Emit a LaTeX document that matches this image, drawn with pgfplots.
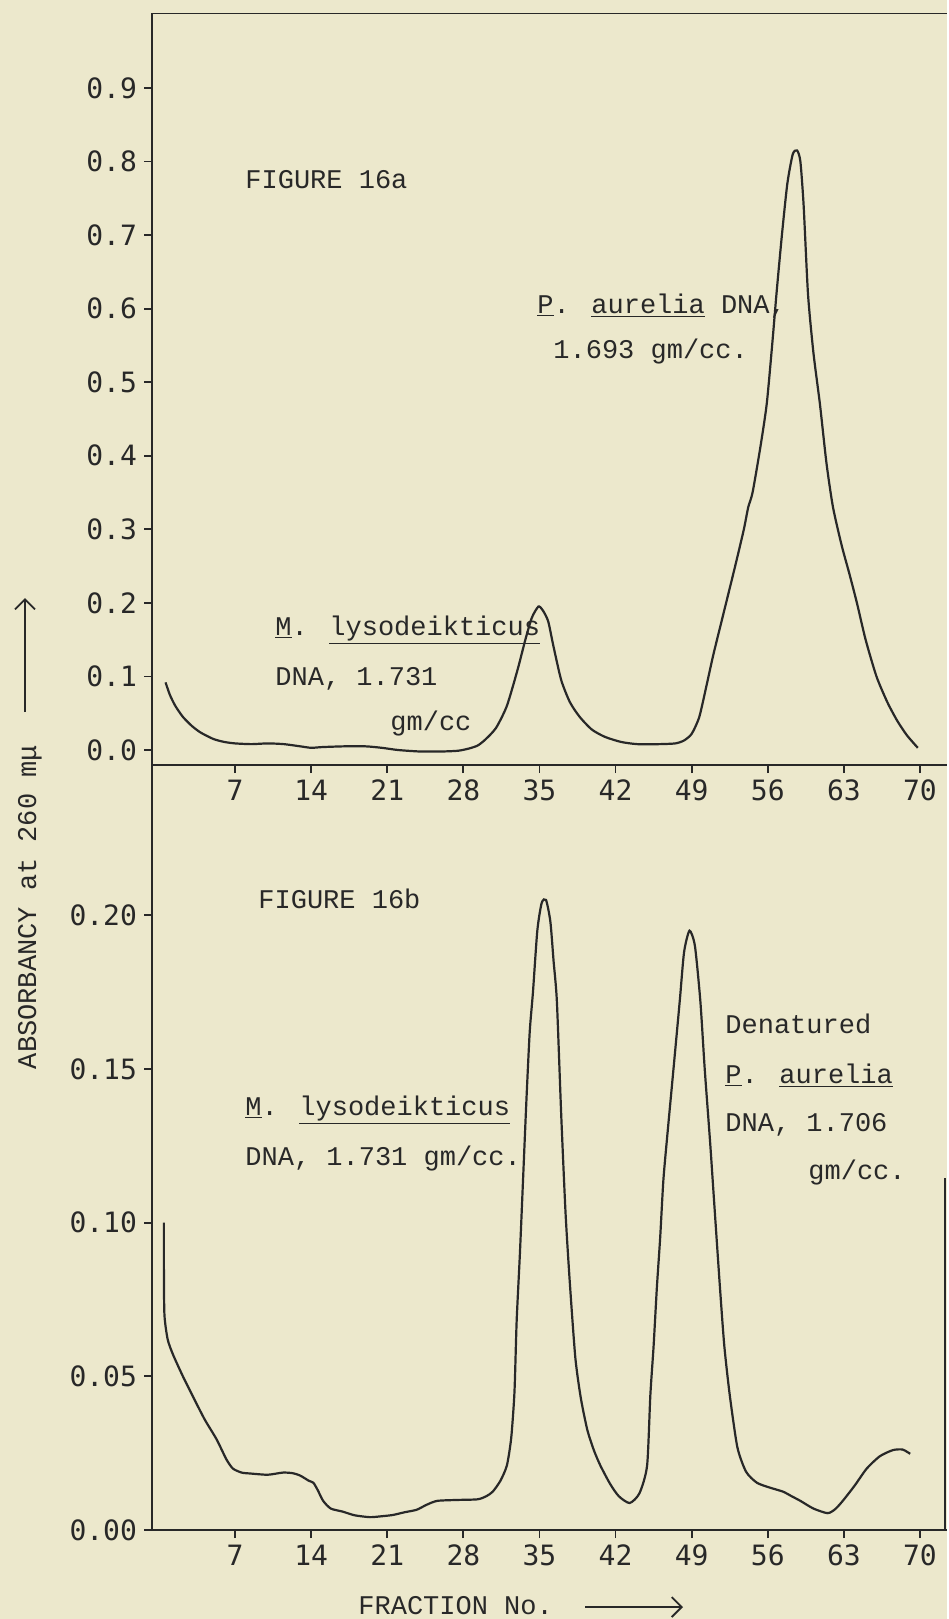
\documentclass[border=0pt]{standalone}
\usepackage{pgfplots}
\pgfplotsset{compat=1.18}
\usepackage{fontspec}
\usetikzlibrary{arrows.meta}
\setmainfont{Liberation Mono}
\newfontfamily\tickfont{DejaVu Sans Mono}
\definecolor{paper}{RGB}{236,232,204}
\definecolor{ink}{RGB}{40,40,40}

\newcommand\tw{\fontsize{13.5bp}{16bp}\selectfont}

\pgfplotsset{
  panel/.style={
    scale only axis,
    width=397.5bp,
    xmin=-0.644, xmax=72.49,
    axis lines*=left,
    axis line style={ink, line width=1bp},
    tick style={ink, line width=0.9bp},
    tick align=outside,
    major tick length=4bp,
    xtick={7,14,21,28,35,42,49,56,63,70},
    xticklabels={7,14,21,28,35,42,49,56,63,70},
    ticklabel style={font=\tickfont\fontsize{14bp}{16bp}\selectfont, text=ink},
  },
  curve/.style={ink, line width=1.1bp, smooth, tension=0.4, mark=none},
}

\begin{document}
\begin{tikzpicture}
% image pixels: 1 px = 0.5 bp, y downwards
\begin{scope}[x=0.5bp, y=-0.5bp]
\path[use as bounding box] (0,0) rectangle (947,1619);
\fill[paper] (0,0) rectangle (947,1619);
\end{scope}

% FIGURE 16a
\begin{axis}[panel,
  at={(76bp,-382.5bp)}, anchor=south west,
  height=376bp,
  ymin=-0.0204, ymax=1.0019,
  ytick={0,0.1,0.2,0.3,0.4,0.5,0.6,0.7,0.8,0.9},
  yticklabels={0.0,0.1,0.2,0.3,0.4,0.5,0.6,0.7,0.8,0.9},
]
\addplot[curve] coordinates {
  (0.6,0.092) (1.0,0.075) (1.5,0.06) (2.2,0.045) (3,0.033) (3.8,0.024)
  (5,0.015) (6,0.011) (7,0.009) (8.5,0.008) (10,0.009) (11.5,0.008)
  (13,0.005) (14,0.003) (15,0.004) (17,0.005) (19,0.005) (20.5,0.003)
  (22,0.0) (24,-0.002) (26,-0.002) (27.5,-0.001) (28.5,0.002) (29.3,0.006)
  (30,0.014) (31,0.03) (32,0.06) (33,0.11) (33.7,0.15) (34.3,0.18)
  (34.9,0.195) (35.3,0.19) (35.8,0.175) (36.3,0.14) (37,0.095) (37.8,0.065)
  (38.7,0.045) (39.8,0.028) (41,0.018) (42.5,0.011) (44,0.008) (46,0.008)
  (47.5,0.009) (48.3,0.013) (49,0.022) (49.7,0.045) (50.4,0.09) (51,0.13)
  (52,0.19) (53,0.25) (53.8,0.3) (54.2,0.33) (54.6,0.35) (55.3,0.41)
  (55.9,0.47) (56.4,0.55) (56.8,0.62) (57.3,0.7) (57.8,0.77) (58.3,0.81)
  (58.7,0.815) (59.0,0.8) (59.3,0.74) (59.7,0.62) (60.2,0.54) (60.8,0.47)
  (61.4,0.39) (62,0.33) (62.8,0.278) (63.5,0.24) (64.2,0.2) (65,0.15)
  (66,0.1) (67,0.065) (67.9,0.04) (68.8,0.02) (69.8,0.003)
};
\draw[ink, line width=1bp] (rel axis cs:0,1) -- (rel axis cs:1,1);
\end{axis}

% FIGURE 16b
\begin{axis}[panel,
  at={(76bp,-765bp)}, anchor=south west,
  height=382.5bp,
  ymin=0, ymax=0.2489,
  ytick={0,0.05,0.1,0.15,0.2},
  yticklabels={0.00,0.05,0.10,0.15,0.20},
]
\addplot[curve] coordinates {
  (0.45,0.10) (0.45,0.085) (0.5,0.07) (0.8,0.062) (1.3,0.057) (2.2,0.05)
  (3.1,0.0436) (4.2,0.036) (5.3,0.0295) (6.2,0.023) (6.8,0.020) (7.6,0.0187)
  (8.4,0.0184) (10,0.018) (11.4,0.0187) (12.3,0.0185) (13,0.0177) (13.8,0.016)
  (14.2,0.0154) (14.6,0.013) (15.1,0.0095) (15.8,0.007) (16.9,0.006) (18,0.0048)
  (19.4,0.0042) (20.5,0.0045) (21.5,0.0049) (22.6,0.0058) (23.7,0.0066)
  (24.6,0.0082) (25.6,0.0095) (27.5,0.0098) (29.3,0.010) (30.1,0.011)
  (30.7,0.0125) (31.4,0.016) (32,0.021) (32.4,0.03) (32.7,0.045) (32.9,0.068)
  (33.2,0.09) (33.5,0.115) (33.8,0.14) (34.1,0.162) (34.4,0.175) (34.8,0.195)
  (35.2,0.204) (35.6,0.205) (36.0,0.198) (36.3,0.185) (36.6,0.172) (37.0,0.135)
  (37.4,0.103) (37.8,0.08) (38.3,0.056) (38.8,0.043) (39.4,0.0326) (40.0,0.026)
  (40.6,0.021) (41.5,0.015) (42.3,0.011) (43.3,0.0088) (44.2,0.012) (44.9,0.021)
  (45.2,0.044) (45.5,0.06) (45.8,0.079) (46.1,0.095) (46.4,0.114) (46.8,0.13)
  (47.3,0.149) (47.9,0.172) (48.3,0.188) (48.8,0.195) (49.3,0.19) (49.8,0.172)
  (50.2,0.15) (50.7,0.126) (51.1,0.105) (51.6,0.079) (52.0,0.06) (52.5,0.044)
  (53.2,0.027) (54,0.019) (55,0.0154) (56.2,0.0138) (57.4,0.0125) (58.2,0.011)
  (59,0.0095) (60.2,0.007) (61.5,0.0055) (62.2,0.0068) (62.9,0.0095) (64,0.0145)
  (65.1,0.020) (66.3,0.024) (67.5,0.026) (68.4,0.0262) (69.1,0.0248)
};
\draw[ink, line width=0.8bp] (rel axis cs:0.9975,0) -- (rel axis cs:0.9975,0.46);
\end{axis}

\begin{scope}[x=0.5bp, y=-0.5bp]
\begin{scope}[every node/.style={anchor=base west, inner sep=0pt, font=\tw, text=ink}]
% figure 16a
\node at (245,188) {FIGURE 16a};
\node at (537,313) {\underline{P}. \underline{aurelia} DNA,};
\node at (553,358) {1.693 gm/cc.};
\node at (275,635) {\underline{M}. \underline{lysodeikticus}};
\node at (275,685) {DNA, 1.731};
\node at (390,730) {gm/cc};
% figure 16b
\node at (258,908) {FIGURE 16b};
\node at (245,1115) {\underline{M}. \underline{lysodeikticus}};
\node at (245,1165) {DNA, 1.731 gm/cc.};
\node at (725,1033) {Denatured};
\node at (725,1083) {\underline{P}. \underline{aurelia}};
\node at (725,1131) {DNA, 1.706};
\node at (808,1179) {gm/cc.};
\node at (358,1614) {FRACTION No.};
\end{scope}
\draw[ink, line width=0.9bp, -{Straight Barb[length=5bp]}] (585,1607) -- (683,1607);
\node[rotate=90, inner sep=0pt, font=\tw, text=ink] at (30,907) {ABSORBANCY at 260 mμ};
\draw[ink, line width=0.9bp, -{Straight Barb[length=5bp]}] (25,712) -- (25,598);
\end{scope}
\end{tikzpicture}
\end{document}
